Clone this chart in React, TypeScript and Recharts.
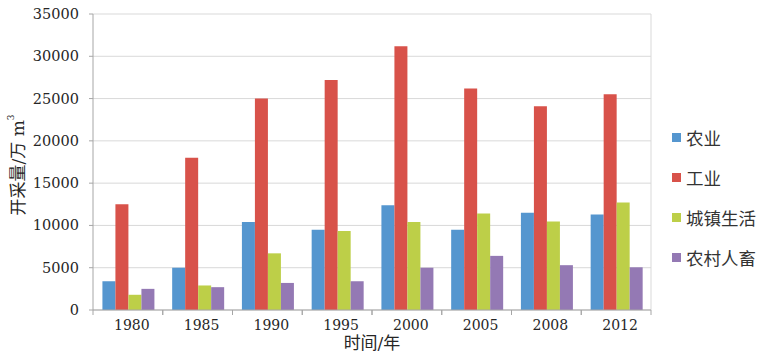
import React from 'react';
import { BarChart, Bar, XAxis, YAxis, CartesianGrid, Legend } from 'recharts';

const years = ['1980', '1985', '1990', '1995', '2000', '2005', '2008', '2012'];
const agriculture = [3400, 5000, 10400, 9500, 12400, 9500, 11500, 11300];
const industry = [12500, 18000, 25000, 27200, 31200, 26200, 24100, 25500];
const urban = [1800, 2900, 6700, 9350, 10400, 11400, 10450, 12700];
const rural = [2500, 2700, 3200, 3400, 5000, 6400, 5300, 5050];
const yTicks = [0, 5000, 10000, 15000, 20000, 25000, 30000, 35000];

const seriesNames = ['农业', '工业', '城镇生活', '农村人畜'];
const seriesKeys = ['agriculture', 'industry', 'urban', 'rural'];
const colors = ['#5596CF', '#D8524A', '#BDCF48', '#9479B4'];

const data = years.map((y, i) => ({
  year: y,
  agriculture: agriculture[i],
  industry: industry[i],
  urban: urban[i],
  rural: rural[i],
}));

const FONT = "'DejaVu Serif', 'Noto Sans CJK SC', serif";
const TEXT = '#262626';
const AXIS = '#A6A6A6';
const GRID = '#D9D9D9';

const XTick = (props: any) => {
  const { x, y, payload, width } = props;
  const half = width / years.length / 2;
  return (
    <g>
      <line x1={x - half} x2={x - half} y1={y - 9} y2={y - 4} stroke={AXIS} />
      <line x1={x + half} x2={x + half} y1={y - 9} y2={y - 4} stroke={AXIS} />
      <text x={x + 4} y={y + 6} textAnchor="middle" dominantBaseline="central" fontSize={14} fontFamily={FONT} fill={TEXT}>
        {payload.value}
      </text>
    </g>
  );
};

const YTick = (props: any) => {
  const { x, y, payload } = props;
  return (
    <text x={x} y={y} textAnchor="end" dominantBaseline="central" fontSize={14.5} fontFamily={FONT} fill={TEXT}>
      {payload.value}
    </text>
  );
};

const YLabel = (props: any) => {
  const { viewBox } = props;
  const cx = 18;
  const cy = viewBox.y + viewBox.height / 2 + 3;
  return (
    <text
      x={cx}
      y={cy}
      transform={`rotate(-90, ${cx}, ${cy})`}
      textAnchor="middle"
      dominantBaseline="central"
      fontSize={17}
      fontFamily={FONT}
      fill={TEXT}
    >
      开采量/万 m
      <tspan fontSize={9} dy={-7}>3</tspan>
    </text>
  );
};

const XLabel = (props: any) => {
  const { viewBox } = props;
  const cx = viewBox.x + viewBox.width / 2;
  return (
    <text x={cx} y={343} textAnchor="middle" dominantBaseline="central" fontSize={17} fontFamily={FONT} fill={TEXT}>
      时间/年
    </text>
  );
};

const LegendContent = () => (
  <div style={{ fontFamily: '"Noto Sans CJK SC", sans-serif', fontSize: 17.5, color: '#333' }}>
    {seriesNames.map((n, i) => (
      <div key={n} style={{ height: 40, display: 'flex', alignItems: 'center' }}>
        <span style={{ display: 'inline-block', width: 9, height: 9, background: colors[i], marginRight: 5 }} />
        <span>{n}</span>
      </div>
    ))}
  </div>
);

export default function App() {
  return (
    <div style={{ position: 'absolute', left: 0, top: 0, background: '#fff' }}>
      <BarChart
        width={764}
        height={355}
        data={data}
        margin={{ top: 14, right: 113, bottom: 0, left: 0 }}
        barCategoryGap="13.5%"
        barGap={0}
      >
        <CartesianGrid
          stroke={GRID}
          vertical={true}
          verticalCoordinatesGenerator={({ offset }: any) => [offset.left + offset.width]}
        />
        <XAxis
          dataKey="year"
          height={45}
          axisLine={{ stroke: AXIS }}
          tickLine={false}
          tickSize={5}
          tickMargin={4}
          tick={<XTick />}
          interval={0}
          label={<XLabel />}
        />
        <YAxis
          width={93}
          domain={[0, 35000]}
          ticks={yTicks}
          interval={0}
          axisLine={{ stroke: AXIS }}
          tickLine={{ stroke: AXIS }}
          tickSize={4}
          tickMargin={10}
          tick={<YTick />}
          label={<YLabel />}
        />
        <Legend
          layout="horizontal"
          align="center"
          verticalAlign="middle"
          content={<LegendContent />}
          wrapperStyle={{ left: 672, top: 117, width: 92 }}
        />
        {seriesKeys.map((k, i) => (
          <Bar key={k} dataKey={k} name={seriesNames[i]} fill={colors[i]} isAnimationActive={false} />
        ))}
      </BarChart>
    </div>
  );
}
